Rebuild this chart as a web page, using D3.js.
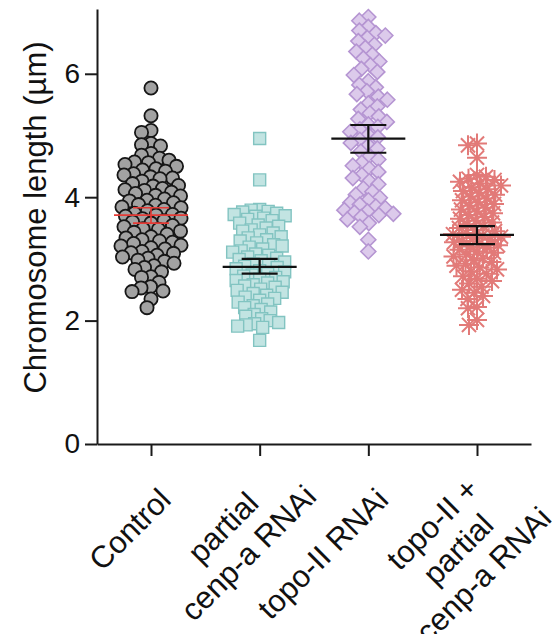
<!DOCTYPE html>
<html>
<head>
<meta charset="utf-8">
<script src="https://cdn.jsdelivr.net/npm/d3@7"></script>
<style>
  body { margin: 0; background: #fff; }
  svg { display: block; }
  text { font-family: "Liberation Sans", Arial, Helvetica, sans-serif; fill: #111; }
</style>
</head>
<body>
<svg id="chart" width="552" height="634"></svg>
<script>
// Group names (one entry per line of the rotated axis label)
const categories = ["Control", "partial cenp-a", "topo-II", "topo-II + partial cenp-a"];
const categoryLines = [["Control"], ["partial", "cenp-a RNAi"], ["topo-II RNAi"], ["topo-II +", "partial", "cenp-a RNAi"]];

// Chromosome lengths (µm), one array per condition
const controlValues = [
  5.77, 5.32, 5.08, 5.05, 4.87, 4.85, 4.83,
  4.71, 4.68, 4.63, 4.60, 4.57, 4.56, 4.53, 4.50,
  4.46, 4.44, 4.42, 4.38, 4.36, 4.33, 4.31, 4.30, 4.26,
  4.22, 4.19, 4.18, 4.14, 4.12, 4.11, 4.08, 4.06, 4.03, 4.02,
  3.97, 3.95, 3.94, 3.91, 3.88, 3.87, 3.84, 3.83, 3.80, 3.78,
  3.74, 3.72, 3.71, 3.69, 3.66, 3.65, 3.62, 3.60, 3.58,
  3.54, 3.52, 3.49, 3.48, 3.45, 3.43, 3.40,
  3.36, 3.34, 3.31, 3.29, 3.27, 3.25, 3.22, 3.21, 3.18, 3.16,
  3.12, 3.10, 3.09, 3.06, 3.03, 3.01, 2.98, 2.96, 2.93,
  2.89, 2.86, 2.83, 2.79,
  2.71, 2.70, 2.62, 2.55, 2.53, 2.48, 2.47, 2.35, 2.21
];
const partialCenpaValues = [
  4.95, 4.28,
  3.80, 3.79, 3.77, 3.76, 3.74, 3.72, 3.70, 3.69, 3.66, 3.64, 3.62, 3.58,
  3.55, 3.53, 3.50, 3.47, 3.45, 3.42, 3.39, 3.36, 3.34, 3.31, 3.29, 3.26,
  3.23, 3.21, 3.19, 3.16, 3.13, 3.11, 3.08, 3.06, 3.03, 3.01, 2.99, 2.97,
  2.95, 2.92, 2.90, 2.88, 2.86, 2.84, 2.81, 2.79, 2.76, 2.74, 2.72, 2.70,
  2.67, 2.65, 2.63, 2.61, 2.58, 2.56, 2.54, 2.51, 2.49, 2.46, 2.44, 2.41,
  2.38, 2.36, 2.33, 2.30, 2.27, 2.24, 2.21, 2.18, 2.14, 2.10, 2.07, 2.03,
  2.00, 1.97, 1.95, 1.93, 1.91, 1.89, 1.68
];
const topoValues = [
  6.92, 6.86, 6.76, 6.70, 6.66, 6.62, 6.58, 6.53, 6.47, 6.42, 6.36, 6.31,
  6.25, 6.20, 6.14, 6.08, 6.03, 5.98,
  5.88, 5.82, 5.78, 5.72, 5.67, 5.63, 5.58, 5.52, 5.47, 5.42,
  5.36, 5.31, 5.27, 5.22, 5.18, 5.14, 5.10, 5.06, 5.01, 4.97, 4.93, 4.88,
  4.84, 4.79, 4.74,
  4.66, 4.61, 4.56, 4.51, 4.46, 4.41, 4.36, 4.31, 4.26, 4.21,
  4.14, 4.09, 4.04, 3.99, 3.95, 3.91, 3.88, 3.85, 3.82, 3.79, 3.77, 3.75,
  3.73, 3.71, 3.68, 3.64, 3.58, 3.52, 3.31, 3.12
];
const topoPartialValues = [
  4.87, 4.84, 4.64,
  4.36, 4.33, 4.30, 4.28, 4.25, 4.22, 4.19, 4.16, 4.13, 4.10, 4.07, 4.04,
  4.01, 3.98, 3.95, 3.92, 3.89, 3.86, 3.83, 3.80, 3.77, 3.74, 3.71, 3.68,
  3.65, 3.62, 3.59, 3.56, 3.53, 3.50, 3.47, 3.45, 3.42, 3.40, 3.38, 3.36,
  3.34, 3.31, 3.29, 3.27, 3.25, 3.22, 3.20, 3.18, 3.15, 3.12, 3.10, 3.07,
  3.04, 3.01, 2.98, 2.95, 2.92, 2.89, 2.86, 2.83, 2.80, 2.76, 2.72, 2.68,
  2.64, 2.60, 2.55, 2.50, 2.45, 2.40, 2.35, 2.22, 2.20, 2.01, 1.93
];

// Mean and error bar limits per condition
const meanValues = [3.71, 2.87, 4.95, 3.39];
const errLow = [3.58, 2.76, 4.72, 3.24];
const errHigh = [3.83, 3.00, 5.17, 3.53];

const yTicks = [0, 2, 4, 6];
const yTitle = "Chromosome length (µm)";

const groups = [controlValues, partialCenpaValues, topoValues, topoPartialValues];

// Marker appearance per condition
const markerStyle = [
  { shape: "circle",   fill: "#a2a2a2", stroke: "#161616", width: 1.8, size: 6.6, dist: 9.5, half: 30 },
  { shape: "square",   fill: "#c2e4e2", stroke: "#82c4c1", width: 1.4, size: 12,  dist: 8.5, half: 30 },
  { shape: "diamond",  fill: "#dccaeb", stroke: "#b595d2", width: 1.6, size: 15,  dist: 9.5, half: 27 },
  { shape: "asterisk", fill: "none",    stroke: "#e27a78", width: 2.0, size: 10,  dist: 9,   half: 24 }
];
const barColor = ["#e53b36", "#111", "#111", "#111"];

const svg = d3.select("#chart");
const axisY0 = 444;

const y = d3.scaleLinear().domain([0, 7.05]).range([axisY0, 9]);
const x = d3.scalePoint().domain(categories).range([97, 531]).padding(0.497);

// Axes
const yAxis = svg.append("g")
  .attr("transform", "translate(97,0)")
  .call(d3.axisLeft(y).tickValues(yTicks).tickFormat(d3.format("d"))
    .tickSize(12).tickSizeOuter(0).tickPadding(5));
const xAxis = svg.append("g")
  .attr("transform", `translate(0,${axisY0})`)
  .call(d3.axisBottom(x).tickSize(12).tickSizeOuter(0).tickFormat(""));

[yAxis, xAxis].forEach(g => {
  g.selectAll("path, line").attr("stroke", "#1a1a1a").attr("stroke-width", 2);
});
yAxis.selectAll("text").attr("font-size", 28).attr("fill", "#111");

svg.append("text")
  .attr("transform", `translate(46,${(y.range()[0] + y.range()[1]) / 2 - 9}) rotate(-90)`)
  .attr("text-anchor", "middle")
  .attr("font-size", 31)
  .text(yTitle);

// Rotated category labels, centre-aligned lines
const lineH = 36;
const labelOffset = { 1: [14, 50], 2: [38, 34], 3: [43, 43] };
categoryLines.forEach((lines, i) => {
  const n = lines.length;
  const off = labelOffset[n];
  const t = svg.append("text")
    .attr("font-size", 31)
    .attr("text-anchor", "end")
    .attr("transform", `translate(${x(categories[i]) + off[0]},${axisY0 + off[1]}) rotate(-45)`);
  const spans = lines.map((s, j) => t.append("tspan")
    .attr("y", (j - (n - 1) / 2) * lineH)
    .attr("dy", "0.35em")
    .text(s));
  const widths = spans.map(sp => sp.node().getComputedTextLength());
  const maxW = d3.max(widths);
  spans.forEach((sp, j) => sp.attr("x", -(maxW - widths[j]) / 2));
});

// Greedy beeswarm: each point goes to the nearest free horizontal slot
function swarm(values, cx, minDist, maxHalf) {
  const pts = values.map(v => ({ v, y: y(v) })).sort((a, b) => a.y - b.y);
  const placed = [];
  pts.forEach((p, idx) => {
    let found = null, fallback = 0, bestScore = -Infinity;
    const sgn = idx % 2 === 0 ? 1 : -1;
    for (let k = 0; k <= maxHalf && found === null; k += 0.5) {
      const cands = k === 0 ? [0] : [sgn * k, -sgn * k];
      for (const s of cands) {
        let md = Infinity;
        for (const q of placed) {
          const dy = q.y - p.y;
          if (Math.abs(dy) < minDist) md = Math.min(md, Math.hypot(q.dx - s, dy));
        }
        if (md >= minDist) { found = s; break; }
        if (md > bestScore) { bestScore = md; fallback = s; }
      }
    }
    p.dx = found !== null ? found : fallback;
    placed.push(p);
  });
  return placed.map(p => ({ v: p.v, y: p.y, x: cx + p.dx }));
}

function asteriskPath(r) {
  const a = r * Math.SQRT1_2;
  return `M${-r},0L${r},0M0,${-r}L0,${r}M${-a},${-a}L${a},${a}M${-a},${a}L${a},${-a}`;
}

groups.forEach((vals, i) => {
  const st = markerStyle[i];
  const pts = swarm(vals, x(categories[i]), st.dist, st.half);
  const g = svg.append("g");
  const sel = g.selectAll("path.pt").data(pts).join("path").attr("class", "pt")
    .attr("transform", d => `translate(${d.x},${d.y})`)
    .attr("fill", st.fill)
    .attr("stroke", st.stroke)
    .attr("stroke-width", st.width);
  if (st.shape === "circle") sel.attr("d", d3.symbol(d3.symbolCircle, Math.PI * st.size * st.size)());
  if (st.shape === "square") sel.attr("d", d3.symbol(d3.symbolSquare, st.size * st.size)());
  if (st.shape === "diamond") {
    const h = st.size / 2;
    sel.attr("d", `M0,${-h}L${h},0L0,${h}L${-h},0Z`);
  }
  if (st.shape === "asterisk") sel.attr("d", asteriskPath(st.size));

  // mean line and error bar
  const cx = x(categories[i]);
  const eb = svg.append("g").attr("stroke", barColor[i]).attr("stroke-width", i === 0 ? 1.6 : 2.2);
  eb.append("line").attr("x1", cx - 37).attr("x2", cx + 37).attr("y1", y(meanValues[i])).attr("y2", y(meanValues[i]));
  eb.append("line").attr("x1", cx).attr("x2", cx).attr("y1", y(errLow[i])).attr("y2", y(errHigh[i]));
  [errLow[i], errHigh[i]].forEach(v => {
    eb.append("line").attr("x1", cx - 18).attr("x2", cx + 18).attr("y1", y(v)).attr("y2", y(v));
  });
});
</script>
</body>
</html>
